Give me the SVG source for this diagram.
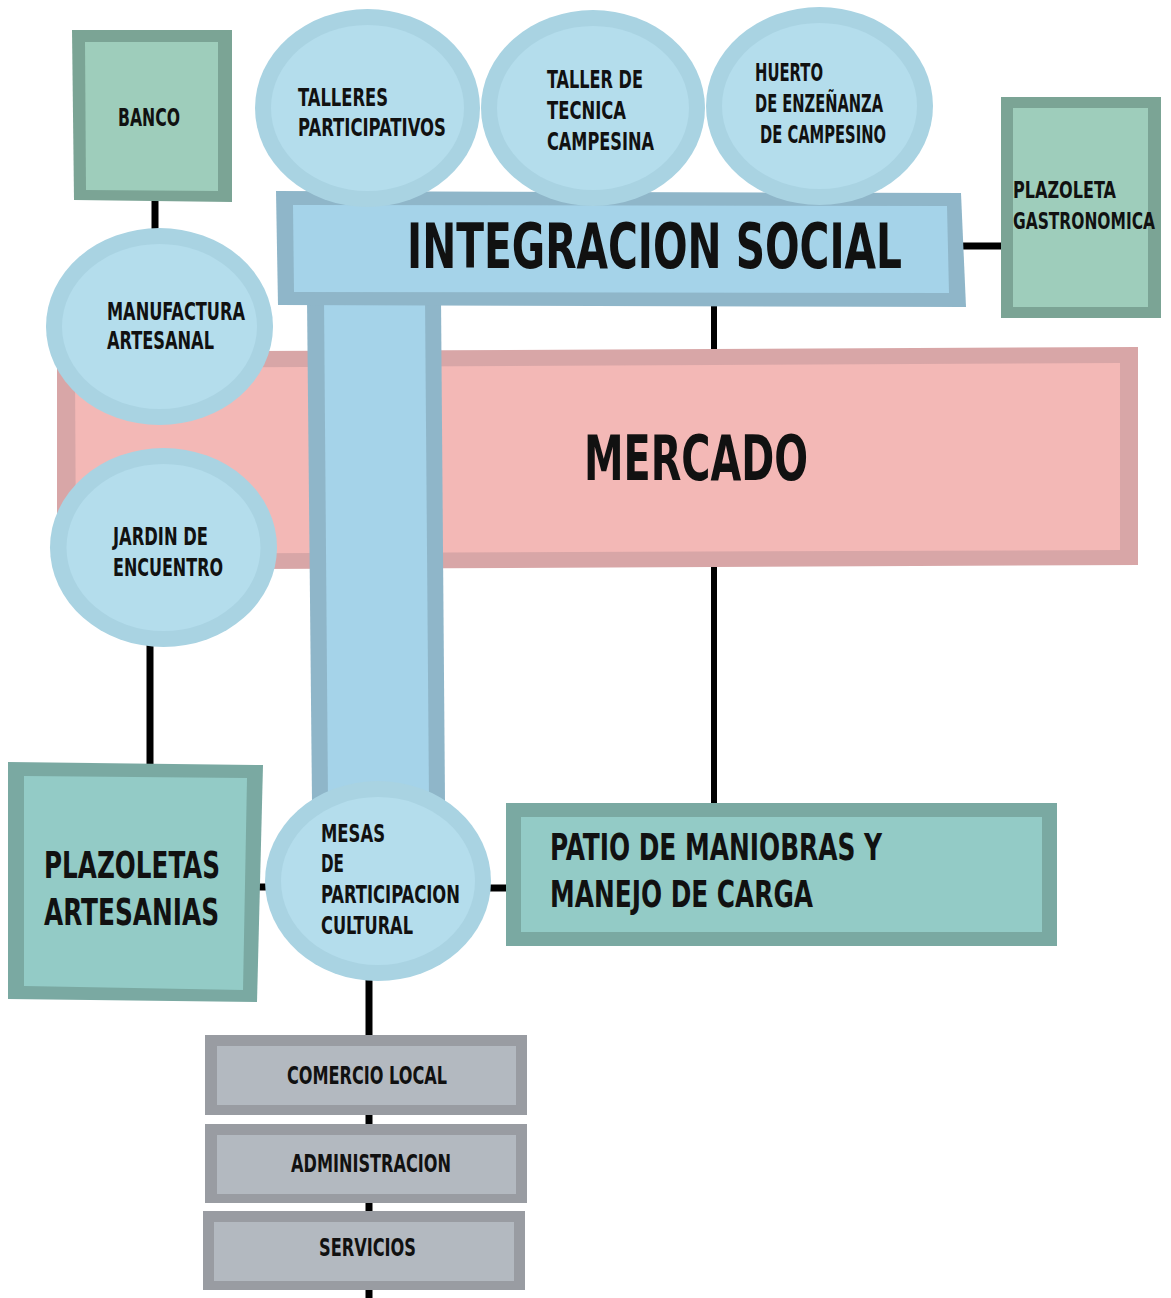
<svg xmlns="http://www.w3.org/2000/svg" width="1171" height="1298" viewBox="0 0 1171 1298">
<style>
.t{font-family:"Liberation Sans Narrow","DejaVu Sans Condensed","DejaVu Sans",sans-serif;font-weight:bold;fill:#111;}
.s{font-size:25px;}
.x{font-size:23px;}
.m{font-size:37px;}
.l{font-size:62px;}
.ring{fill:#a9d3e2;}
.core{fill:#b4ddec;}
.bb{fill:#8fb6c9;}
.bf{fill:#a5d3e9;}
.pb{fill:#d8a6a7;}
.pf{fill:#f3b8b6;}
.gb{fill:#7ba495;}
.gf{fill:#9ecdbb;}
.tb{fill:#7aa9a2;}
.tf{fill:#93cbc6;}
.rb{fill:#999ca2;}
.rf{fill:#b3b9c0;}
.c{stroke:#000;stroke-width:7;fill:none;}
</style>
<rect width="1171" height="1298" fill="#fff"/>
<g id="connectors">
<line class="c" x1="155" y1="195" x2="155" y2="240"/>
<line class="c" x1="955" y1="246" x2="1013" y2="246"/>
<line class="c" x1="714" y1="300" x2="714" y2="355" style="stroke-width:6"/>
<line class="c" x1="714" y1="560" x2="714" y2="806" style="stroke-width:6"/>
<line class="c" x1="150" y1="640" x2="150" y2="768"/>
<line class="c" x1="253" y1="887" x2="282" y2="887"/>
<line class="c" x1="483" y1="888" x2="512" y2="888"/>
<line class="c" x1="369" y1="970" x2="369" y2="1038"/>
<line class="c" x1="369" y1="1112" x2="369" y2="1127"/>
<line class="c" x1="369" y1="1200" x2="369" y2="1214"/>
<line class="c" x1="369" y1="1287" x2="369" y2="1298"/>
</g>
<g id="mercado">
<polygon class="pb" points="57,352 1138,347 1138,565 57,570"/>
<polygon class="pf" points="75,368 1120,363 1120,550 76,554"/>
<text class="t l" x="584" y="480" textLength="224" lengthAdjust="spacingAndGlyphs">MERCADO</text>
</g>
<g id="manufactura">
<ellipse class="ring" cx="159.5" cy="326.5" rx="113.5" ry="98.5"/>
<ellipse class="core" cx="159.5" cy="326.5" rx="97.5" ry="82.5"/>
<text class="t s" x="107" y="320" textLength="138" lengthAdjust="spacingAndGlyphs">MANUFACTURA</text>
<text class="t s" x="107" y="349" textLength="107" lengthAdjust="spacingAndGlyphs">ARTESANAL</text>
</g>
<g id="jardin">
<ellipse class="ring" cx="163.5" cy="547.5" rx="113.5" ry="99.5"/>
<ellipse class="core" cx="163.5" cy="547.5" rx="97" ry="83.5"/>
<text class="t s" x="113" y="545" textLength="95" lengthAdjust="spacingAndGlyphs">JARDIN DE</text>
<text class="t s" x="113" y="576" textLength="110" lengthAdjust="spacingAndGlyphs">ENCUENTRO</text>
</g>
<g id="columna">
<polygon class="bb" points="307,298 441,298 445,802 312,802"/>
<polygon class="bf" points="324,298 425,298 429,802 328,802"/>
</g>
<g id="integracion">
<polygon class="bb" points="276,191 961,193 966,307 278,305"/>
<polygon class="bf" points="293,205 947,206 949,293 294,292"/>
<text class="t l" x="407" y="268" textLength="495" lengthAdjust="spacingAndGlyphs">INTEGRACION SOCIAL</text>
</g>
<g id="talleres">
<ellipse class="ring" cx="367.5" cy="108" rx="112.5" ry="99"/>
<ellipse class="core" cx="367.5" cy="108" rx="96.5" ry="83"/>
<text class="t s" x="298" y="106" textLength="90" lengthAdjust="spacingAndGlyphs">TALLERES</text>
<text class="t s" x="298" y="136" textLength="148" lengthAdjust="spacingAndGlyphs">PARTICIPATIVOS</text>
</g>
<g id="taller-tecnica">
<ellipse class="ring" cx="593" cy="108" rx="112" ry="98"/>
<ellipse class="core" cx="593" cy="108" rx="96" ry="82"/>
<text class="t s" x="547" y="88" textLength="96" lengthAdjust="spacingAndGlyphs">TALLER DE</text>
<text class="t s" x="547" y="119" textLength="79" lengthAdjust="spacingAndGlyphs">TECNICA</text>
<text class="t s" x="547" y="150" textLength="107" lengthAdjust="spacingAndGlyphs">CAMPESINA</text>
</g>
<g id="huerto">
<ellipse class="ring" cx="819.5" cy="106" rx="113.5" ry="99"/>
<ellipse class="core" cx="819.5" cy="106" rx="97.5" ry="83"/>
<text class="t s" x="755" y="81" textLength="68" lengthAdjust="spacingAndGlyphs">HUERTO</text>
<text class="t s" x="755" y="112" textLength="128" lengthAdjust="spacingAndGlyphs">DE ENZEÑANZA</text>
<text class="t s" x="760" y="143" textLength="126" lengthAdjust="spacingAndGlyphs">DE CAMPESINO</text>
</g>
<g id="banco">
<polygon class="gb" points="72,30 232,30 232,202 74,200"/>
<polygon class="gf" points="85,42 218,42 218,191 86,190"/>
<text class="t s" x="118" y="126" textLength="62" lengthAdjust="spacingAndGlyphs">BANCO</text>
</g>
<g id="plazoleta-gastronomica">
<polygon class="gb" points="1001,97 1161,97 1161,318 1001,318"/>
<polygon class="gf" points="1013,108 1148,108 1148,307 1013,307"/>
<text class="t x" x="1013" y="198" textLength="103" lengthAdjust="spacingAndGlyphs">PLAZOLETA</text>
<text class="t x" x="1013" y="229" textLength="142" lengthAdjust="spacingAndGlyphs">GASTRONOMICA</text>
</g>
<g id="plazoletas-artesanias">
<polygon class="tb" points="8,762 263,765 257,1002 8,999"/>
<polygon class="tf" points="24,776 247,778 243,990 24,986"/>
<text class="t m" x="44" y="878" textLength="176" lengthAdjust="spacingAndGlyphs">PLAZOLETAS</text>
<text class="t m" x="44" y="925" textLength="175" lengthAdjust="spacingAndGlyphs">ARTESANIAS</text>
</g>
<g id="mesas">
<ellipse class="ring" cx="378" cy="881" rx="113" ry="100"/>
<ellipse class="core" cx="378" cy="881" rx="97" ry="84"/>
<text class="t s" x="321" y="842" textLength="64" lengthAdjust="spacingAndGlyphs">MESAS</text>
<text class="t s" x="321" y="872" textLength="23" lengthAdjust="spacingAndGlyphs">DE</text>
<text class="t s" x="321" y="903" textLength="139" lengthAdjust="spacingAndGlyphs">PARTICIPACION</text>
<text class="t s" x="321" y="934" textLength="92" lengthAdjust="spacingAndGlyphs">CULTURAL</text>
</g>
<g id="patio">
<polygon class="tb" points="506,803 1057,803 1057,946 506,946"/>
<polygon class="tf" points="521,817 1042,817 1042,932 521,932"/>
<text class="t m" x="550" y="860" textLength="332" lengthAdjust="spacingAndGlyphs">PATIO DE MANIOBRAS Y</text>
<text class="t m" x="550" y="907" textLength="263" lengthAdjust="spacingAndGlyphs">MANEJO DE CARGA</text>
</g>
<g id="comercio-local">
<rect class="rb" x="205" y="1035" width="322" height="80"/>
<rect class="rf" x="217" y="1046" width="299" height="59"/>
<text class="t s" x="287" y="1084" textLength="160" lengthAdjust="spacingAndGlyphs">COMERCIO LOCAL</text>
</g>
<g id="administracion">
<rect class="rb" x="205" y="1124" width="322" height="79"/>
<rect class="rf" x="217" y="1135" width="299" height="59"/>
<text class="t s" x="291" y="1172" textLength="160" lengthAdjust="spacingAndGlyphs">ADMINISTRACION</text>
</g>
<g id="servicios">
<rect class="rb" x="203" y="1211" width="322" height="79"/>
<rect class="rf" x="214" y="1222" width="300" height="59"/>
<text class="t s" x="319" y="1256" textLength="97" lengthAdjust="spacingAndGlyphs">SERVICIOS</text>
</g>
</svg>
